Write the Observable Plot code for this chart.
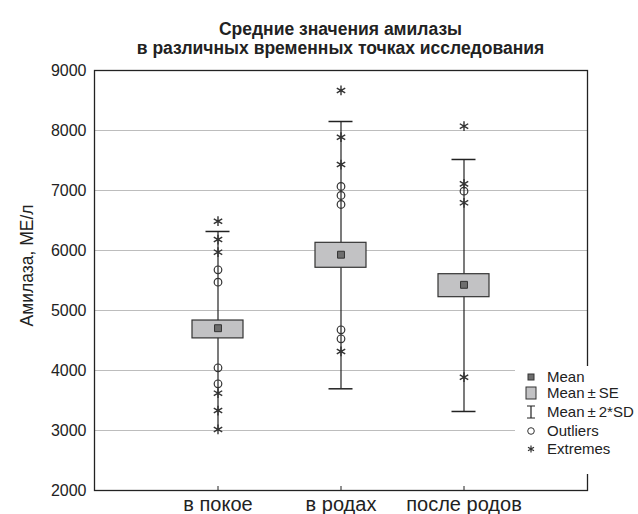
<!DOCTYPE html>
<html><head><meta charset="utf-8">
<script src="https://cdn.jsdelivr.net/npm/d3@7"></script>
<script src="https://cdn.jsdelivr.net/npm/@observablehq/plot@0.6"></script>
<style>
body{margin:0;background:#fff;font-family:"Liberation Sans",Arial,sans-serif}
#wrap{position:relative;width:638px;height:514px;overflow:hidden}
#title{position:absolute;left:0;width:681px;top:20px;text-align:center;font-weight:bold;font-size:17.5px;line-height:19px;color:#222}
#legend{position:absolute;left:515px;top:366px;width:123px;height:108px;background:#fff;font-size:15px;color:#222}
.icon{position:absolute;left:0;width:26px;height:18px}
.lab{position:absolute;left:32px;height:18px;line-height:18px;white-space:nowrap}
</style></head>
<body><div id="wrap"><div id="title">Средние значения амилазы<br>в различных временных точках исследования</div></div>
<script>
const categories = ["в покое", "в родах", "после родов"];
const means  = [4705, 5930, 5428];
const seLow  = [4535, 5712, 5222];
const seHigh = [4833, 6128, 5605];
const sdLow  = [3030, 3695, 3317];
const sdHigh = [6317, 8150, 7517];
const capLow = [null, 3695, 3317];
const outlierGroup = ["в покое","в покое","в покое","в покое","в родах","в родах","в родах","в родах","в родах","после родов"];
const outlierValue = [5678, 5472, 4045, 3778, 7067, 6917, 6767, 4678, 4528, 6989];
const extremeGroup = ["в покое","в покое","в покое","в покое","в покое","в покое","в родах","в родах","в родах","в родах","после родов","после родов","после родов","после родов"];
const extremeValue = [6488, 6183, 5972, 3622, 3333, 3017, 8667, 7888, 7433, 4317, 8072, 7111, 6795, 3888];
const yTicks = [2000, 3000, 4000, 5000, 6000, 7000, 8000, 9000];
const gridTicks = [3000, 4000, 5000, 6000, 7000, 8000];
const yLabel = "Амилаза, МЕ/л";

const stats = categories.map((c, i) => ({cat: c, mean: means[i], seLow: seLow[i], seHigh: seHigh[i], sdLow: sdLow[i], sdHigh: sdHigh[i], capLow: capLow[i]}));
const outliers = outlierValue.map((v, i) => ({cat: outlierGroup[i], v}));
const extremes = extremeValue.map((v, i) => ({cat: extremeGroup[i], v}));

const ink = "#222";
const chart = Plot.plot({
  width: 638, height: 514,
  marginTop: 70, marginBottom: 24, marginLeft: 94, marginRight: 51,
  style: {fontFamily: "'Liberation Sans', Arial, sans-serif", color: ink, background: "#fff"},
  x: {type: "band", domain: categories, paddingInner: 0.585, paddingOuter: 0.796},
  y: {domain: [2000, 9000]},
  marks: [
    Plot.gridY(gridTicks, {stroke: "#bdbdbd", strokeOpacity: 1, strokeWidth: 1}),
    Plot.axisY(yTicks, {tickSize: 0, tickPadding: 8, fontSize: 16, label: null, tickFormat: d => String(d)}),
    Plot.axisX({tickSize: -4, tickPadding: 10, fontSize: 20, label: null, stroke: ink}),
    Plot.text([yLabel], {frameAnchor: "left", textAnchor: "middle", dx: -67, dy: -15, rotate: -90, fontSize: 17.5, fill: "#222"}),
    Plot.ruleX(stats, {x: "cat", y1: "sdLow", y2: "sdHigh", stroke: ink, strokeWidth: 1.2}),
    Plot.tickY(stats, {x: "cat", y: "sdHigh", stroke: ink, strokeWidth: 1.5, insetLeft: 13.5, insetRight: 13.5}),
    Plot.tickY(stats.filter(d => d.capLow != null), {x: "cat", y: "capLow", stroke: ink, strokeWidth: 1.5, insetLeft: 13.5, insetRight: 13.5}),
    Plot.barY(stats, {x: "cat", y1: "seLow", y2: "seHigh", fill: "#c2c2c4", stroke: "#333", strokeWidth: 1.2}),
    Plot.dot(stats, {x: "cat", y: "mean", symbol: "square", r: 3.9, fill: "#6e6e6e", stroke: "#333", strokeWidth: 1}),
    Plot.dot(outliers, {x: "cat", y: "v", symbol: "circle", r: 3.8, fill: "none", stroke: "#333", strokeWidth: 1.2}),
    Plot.dot(extremes, {x: "cat", y: "v", symbol: "asterisk", r: 4.6, stroke: "#333", strokeWidth: 1.4}),
    Plot.frame({stroke: ink, strokeWidth: 1.3})
  ]
});
const wrap = document.getElementById("wrap");
wrap.insertBefore(chart, wrap.firstChild);

const legendItems = [
  {label: "Mean", icon: '<rect x="13" y="6" width="6" height="6" fill="#6e6e6e" stroke="#333"/>'},
  {label: "Mean\u2009±\u2009SE", icon: '<rect x="11" y="3" width="10" height="12" fill="#c2c2c4" stroke="#333"/>'},
  {label: "Mean\u2009±\u20092*SD", icon: '<path d="M12 3H20M16 3V15M12 15H20" stroke="#222" fill="none" stroke-width="1.2"/>'},
  {label: "Outliers", icon: '<circle cx="16" cy="9" r="3.3" fill="none" stroke="#333"/>'},
  {label: "Extremes", icon: '<path d="M16 5.5V12.5M13 7.2L19 10.8M13 10.8L19 7.2" stroke="#333" stroke-width="1.2"/>'}
];
const rowTops = [2, 18, 37, 56, 74];
const legend = document.createElement("div");
legend.id = "legend";
legendItems.forEach((it, i) => {
  legend.insertAdjacentHTML("beforeend",
    '<svg class="icon" style="top:' + rowTops[i] + 'px" width="26" height="18" viewBox="0 0 26 18">' + it.icon + '</svg>' +
    '<div class="lab" style="top:' + rowTops[i] + 'px">' + it.label + '</div>');
});
wrap.appendChild(legend);
</script>
</body></html>
